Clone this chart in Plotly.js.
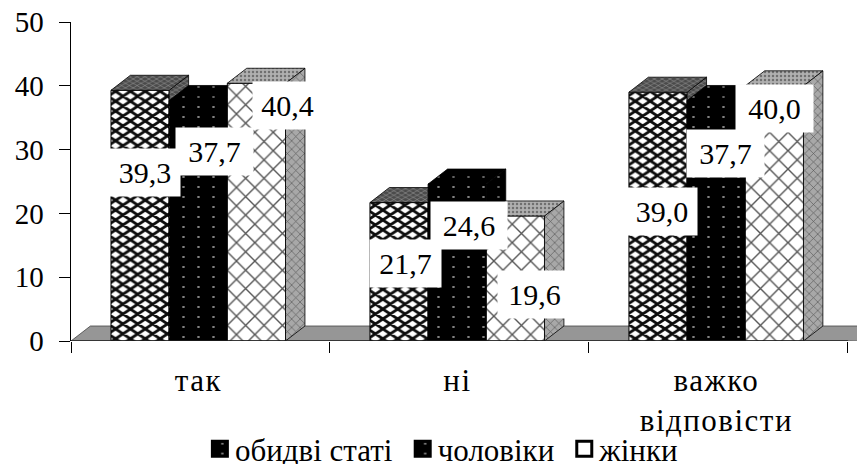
<!DOCTYPE html>
<html>
<head>
<meta charset="utf-8">
<script src="https://cdn.plot.ly/plotly-3.0.1.min.js"></script>
<style>html,body{margin:0;padding:0;background:#fff}#chart{width:857px;height:464px}</style>
</head>
<body>
<div id="chart"></div>
<script>
// Survey answers by group, in percent
const categories = ['так', 'ні', 'важко<br>відповісти'];
const seriesNames = ['обидві статі', 'чоловіки', 'жінки'];
const bothSexes = [39.3, 21.7, 39.0];
const men = [37.7, 24.6, 37.7];
const women = [40.4, 19.6, 40.0];
const yTicks = [0, 10, 20, 30, 40, 50];

// Bar placement inside each category slot, in x-axis units
const barOffsets = [-0.3456, -0.121, 0.1036];
const barWidth = 0.2247;
// Oblique depth of the pseudo-3D boxes, in axis units
const depthX = 0.075;
const depthY = 2.35;
// Pixel shifts of the value labels from the top-centre of each bar
const labelShiftX = [[5, 6, 4], [16, 12, 9.5], [31, 19, 0.5]];
const labelShiftY = [[-82, -61, -119.5], [-51, -41, -53], [-22, -79, -23]];
const labelWidth = [[70, 71, 70], [77, 76, 77], [69, 73, 77]];

const FONT = '"Liberation Serif", "Times New Roman", serif';
const slots = categories.map((_, i) => i);
const allSeries = [bothSexes, men, women];

const frontStyle = [
  {bg: '#ffffff', fg: '#0c0c0c', shape: 'x', size: 7, solidity: 0.56},
  {bg: '#000000', fg: '#8a8a8a', shape: '.', size: 10, solidity: 0.03},
  {bg: '#ffffff', fg: '#555555', shape: 'x', size: 13, solidity: 0.2}
];
const topStyle = [
  {bg: '#4a4a4a', fg: '#9a9a9a', shape: 'x', size: 5, solidity: 0.25},
  {bg: '#000000', fg: '#6a6a6a', shape: '.', size: 10, solidity: 0.03},
  {bg: '#b0b0b0', fg: '#707070', shape: '.', size: 4, solidity: 0.3}
];
const sideStyle = [
  {bg: '#4a4a4a', fg: '#9a9a9a', shape: 'x', size: 5, solidity: 0.25},
  {bg: '#000000', fg: '#6a6a6a', shape: '.', size: 10, solidity: 0.03},
  {bg: '#a8a8a8', fg: '#555555', shape: 'x', size: 6, solidity: 0.2}
];
// Stretch of the hatch cells, keyed by cell size
const hatchStretch = {7: 'scale(1.1,0.62)', 10: 'scale(1.5,1)', 13: 'scale(1.15,0.72)'};

function facePattern(s) {
  return {shape: s.shape, bgcolor: s.bg, fgcolor: s.fg, size: s.size, solidity: s.solidity, fillmode: 'replace'};
}

// Outlines of the top and side faces for one series, joined with gaps
function boxFaces(values, offset) {
  const top = {x: [], y: []}, side = {x: [], y: []};
  values.forEach((v, i) => {
    const l = i + offset, r = l + barWidth;
    top.x.push(l, r, r + depthX, l + depthX, l, null);
    top.y.push(v, v, v + depthY, v + depthY, v, null);
    side.x.push(r, r + depthX, r + depthX, r, r, null);
    side.y.push(0, depthY, v + depthY, v, 0, null);
  });
  return {top, side};
}

const traces = [];
allSeries.forEach((values, s) => {
  const n = s === 0 ? '' : String(s + 1);
  const xa = 'x' + n, ya = 'y' + n;
  const faces = boxFaces(values, barOffsets[s]);
  traces.push({
    type: 'bar', name: seriesNames[s], x: slots, y: values,
    width: barWidth, offset: barOffsets[s], xaxis: xa, yaxis: ya,
    hoverinfo: 'name+y',
    marker: {
      color: frontStyle[s].bg,
      line: {color: '#000', width: 1},
      pattern: facePattern(frontStyle[s])
    }
  });
  [[faces.side, sideStyle[s]], [faces.top, topStyle[s]]].forEach(([f, st]) => {
    traces.push({
      type: 'scatter', mode: 'lines', x: f.x, y: f.y, xaxis: xa, yaxis: ya,
      fill: 'toself', fillcolor: st.bg, fillpattern: facePattern(st),
      line: {color: '#000', width: 0.8}, showlegend: false, hoverinfo: 'skip'
    });
  });
});

const xRange = [-0.5, 2.535];
const yRange = [0, 50];
const boundaries = [-0.5, 0.5, 1.5, 2.5];

// Value labels in white boxes
const annotations = [];
allSeries.forEach((values, s) => {
  values.forEach((v, i) => {
    annotations.push({
      x: i + barOffsets[s] + barWidth / 2, y: v, xref: 'x', yref: 'y',
      text: v.toFixed(1).replace('.', ','), showarrow: false,
      xanchor: 'center', yanchor: 'middle',
      xshift: labelShiftX[s][i], yshift: labelShiftY[s][i],
      width: labelWidth[s][i], height: 47, bgcolor: '#ffffff', borderpad: 0,
      font: {family: FONT, size: 30, color: '#000'}
    });
  });
});

const layout = {
  width: 857, height: 464,
  margin: {l: 71, r: 0, t: 22, b: 123, pad: 0},
  paper_bgcolor: '#fff', plot_bgcolor: '#fff',
  font: {family: FONT, size: 29, color: '#000'},
  barmode: 'overlay',
  xaxis: {
    type: 'linear', range: xRange, fixedrange: true, showgrid: false, zeroline: false,
    showline: false, tickmode: 'array', tickvals: boundaries, ticktext: boundaries.map(() => ''),
    ticks: 'outside', ticklen: 11, tickwidth: 1, tickcolor: '#000'
  },
  yaxis: {
    range: yRange, fixedrange: true, showgrid: false, zeroline: false,
    showline: true, linecolor: '#000', linewidth: 1.5,
    tickmode: 'array', tickvals: yTicks, ticks: 'outside', ticklen: 11, tickwidth: 1, tickcolor: '#000',
    ticklabelstandoff: 9,
    tickfont: {family: FONT, size: 29, color: '#000'}
  },
  xaxis2: {overlaying: 'x', range: xRange, visible: false, fixedrange: true, anchor: 'y2'},
  yaxis2: {overlaying: 'y', range: yRange, visible: false, fixedrange: true, anchor: 'x2'},
  xaxis3: {
    overlaying: 'x', range: xRange, fixedrange: true, anchor: 'y3', showgrid: false, zeroline: false,
    showline: false, tickmode: 'array', tickvals: slots.map(i => i - 0.008), ticktext: categories,
    ticks: '', ticklabelstandoff: 18, tickfont: {family: FONT, size: 31, color: '#000'}
  },
  yaxis3: {overlaying: 'y', range: yRange, visible: false, fixedrange: true, anchor: 'x3'},
  shapes: [
    // Grey floor behind the boxes
    {
      type: 'path', layer: 'below', xref: 'x', yref: 'y',
      path: 'M -0.5 0 L ' + (-0.5 + depthX) + ' ' + depthY + ' L 2.6 ' + depthY + ' L 2.6 -0.1 L 2.5 0 Z',
      fillcolor: '#969696', line: {color: '#444', width: 0.8}
    },
    {type: 'line', layer: 'above', xref: 'x', yref: 'y', x0: -0.5, x1: 2.5, y0: 0, y1: 0, line: {color: '#222', width: 1.5}}
  ],
  annotations: annotations,
  showlegend: true,
  legend: {
    orientation: 'h', xref: 'container', yref: 'container', x: 0.5127, xanchor: 'center', y: 0, yanchor: 'bottom',
    font: {family: FONT, size: 31, color: '#000'}, itemwidth: 30, traceorder: 'normal',
    bgcolor: 'rgba(0,0,0,0)'
  }
};

Plotly.newPlot('chart', traces, layout, {staticPlot: true, displayModeBar: false}).then(gd => {
  // Hatch cell proportions
  gd.querySelectorAll('pattern').forEach(p => {
    const t = hatchStretch[Math.round(parseFloat(p.getAttribute('width')))];
    if (t) p.setAttribute('patternTransform', t);
  });
  // Wider category letters
  gd.querySelectorAll('.xtick text, .x3tick text').forEach(t => { t.style.letterSpacing = '1.5px'; });
  // Legend swatches: heavy outlines around small fills, closer to their text
  const swatches = gd.querySelectorAll('.legendpoints path');
  swatches.forEach(p => {
    p.setAttribute('d', 'M12.5,7.5H-2.5V-7.5H12.5Z');
    p.style.strokeWidth = '3px';
  });
  if (swatches[0] && swatches[1]) swatches[0].style.fill = swatches[1].style.fill;
  if (swatches[2]) swatches[2].style.fill = '#ffffff';
  // Seat the legend on the bottom edge of the page
  const legend = gd.querySelector('.legend');
  const m = /translate\(\s*([-\d.]+)[ ,]+([-\d.]+)\s*\)/.exec(legend.getAttribute('transform') || '');
  if (m) {
    const bottom = legend.getBBox().height + parseFloat(m[2]);
    legend.setAttribute('transform', 'translate(' + m[1] + ',' + (parseFloat(m[2]) + 464 - bottom + 12) + ')');
  }
});
</script>
</body>
</html>
